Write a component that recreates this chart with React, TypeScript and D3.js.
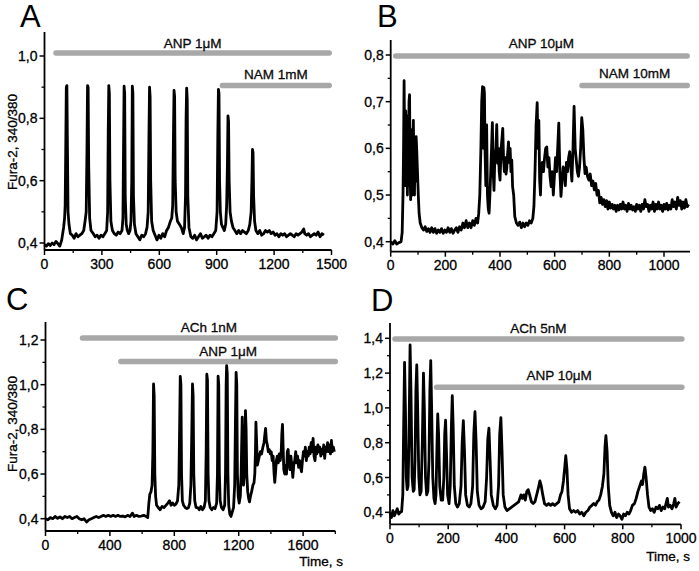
import React from "react";
import * as d3 from "d3";

// ---------- data ----------
const traceA: [number, number][] = [
  [0,0.395],[10,0.39],[20,0.398],[30,0.392],[40,0.40],[50,0.395],[60,0.405],[70,0.398],[80,0.39],[90,0.41],[95,0.43],[100,0.45],[105,0.48],[108,0.52],[111,0.7],[114,0.9],[117,0.905],[120,0.7],[123,0.5],[128,0.46],[135,0.43],[145,0.425],[155,0.415],[165,0.43],[175,0.42],[185,0.425],[195,0.43],[205,0.44],[212,0.47],[218,0.5],[222,0.7],[225,0.905],[228,0.9],[231,0.65],[236,0.48],[243,0.44],[255,0.43],[265,0.42],[275,0.425],[285,0.415],[295,0.425],[305,0.42],[315,0.43],[325,0.44],[330,0.5],[333,0.75],[336,0.905],[339,0.88],[342,0.6],[347,0.47],[355,0.44],[365,0.43],[375,0.425],[385,0.435],[395,0.43],[405,0.44],[410,0.48],[413,0.7],[416,0.903],[419,0.88],[422,0.55],[427,0.46],[433,0.44],[440,0.43],[447,0.44],[452,0.47],[456,0.6],[459,0.903],[462,0.88],[465,0.55],[470,0.46],[478,0.43],[488,0.42],[498,0.41],[508,0.425],[518,0.42],[528,0.43],[536,0.45],[542,0.5],[546,0.75],[549,0.9],[552,0.87],[555,0.6],[560,0.47],[568,0.44],[578,0.425],[588,0.41],[598,0.425],[608,0.415],[618,0.43],[628,0.42],[638,0.44],[648,0.45],[658,0.47],[665,0.48],[670,0.52],[674,0.75],[677,0.89],[680,0.87],[683,0.6],[688,0.5],[695,0.47],[705,0.46],[715,0.45],[725,0.43],[732,0.45],[737,0.55],[740,0.8],[743,0.897],[746,0.86],[749,0.55],[755,0.45],[765,0.42],[775,0.415],[785,0.425],[795,0.41],[805,0.42],[815,0.43],[825,0.415],[835,0.42],[845,0.425],[855,0.415],[865,0.425],[875,0.42],[885,0.43],[895,0.44],[902,0.5],[906,0.75],[909,0.893],[912,0.88],[915,0.6],[919,0.5],[925,0.46],[932,0.45],[940,0.44],[947,0.46],[952,0.52],[956,0.65],[959,0.808],[962,0.79],[965,0.6],[970,0.5],[977,0.47],[985,0.45],[995,0.44],[1005,0.43],[1015,0.44],[1025,0.43],[1035,0.44],[1045,0.435],[1055,0.43],[1065,0.44],[1073,0.46],[1080,0.5],[1084,0.6],[1087,0.70],[1090,0.69],[1093,0.55],[1098,0.47],[1105,0.44],[1115,0.43],[1125,0.44],[1135,0.425],[1145,0.43],[1155,0.44],[1165,0.435],[1175,0.44],[1185,0.43],[1195,0.435],[1205,0.425],[1215,0.43],[1225,0.42],[1235,0.43],[1245,0.425],[1255,0.43],[1265,0.42],[1275,0.425],[1285,0.43],[1295,0.425],[1305,0.42],[1315,0.43],[1325,0.425],[1335,0.43],[1345,0.435],[1355,0.445],[1360,0.43],[1370,0.425],[1380,0.43],[1390,0.42],[1400,0.425],[1410,0.43],[1420,0.425],[1430,0.435],[1440,0.42],[1450,0.43],[1460,0.425]
];

const traceB: [number, number][] = [
  [0,0.40],[8,0.395],[15,0.402],[22,0.395],[30,0.398],[38,0.40],[42,0.42],[45,0.5],[47,0.6],[49,0.745],[51,0.6],[53,0.52],[55,0.68],[57,0.55],[59,0.67],[61,0.5],[63,0.6],[65,0.52],[67,0.7],[69,0.715],[71,0.55],[73,0.49],[75,0.64],[77,0.52],[79,0.5],[81,0.6],[83,0.66],[85,0.55],[87,0.5],[89,0.62],[91,0.53],[93,0.625],[95,0.6],[98,0.55],[101,0.5],[104,0.46],[108,0.44],[114,0.43],[120,0.425],[126,0.432],[132,0.422],[138,0.428],[144,0.42],[150,0.43],[156,0.42],[162,0.428],[168,0.418],[174,0.425],[180,0.42],[186,0.428],[192,0.418],[198,0.425],[204,0.42],[210,0.43],[216,0.42],[222,0.428],[228,0.418],[234,0.425],[240,0.43],[246,0.42],[252,0.432],[258,0.425],[264,0.44],[270,0.43],[276,0.445],[282,0.43],[288,0.44],[294,0.43],[300,0.445],[306,0.435],[312,0.45],[318,0.44],[322,0.46],[326,0.5],[330,0.6],[333,0.7],[336,0.732],[339,0.6],[341,0.73],[343,0.718],[345,0.6],[348,0.52],[351,0.65],[354,0.5],[357,0.47],[360,0.461],[363,0.5],[366,0.55],[369,0.6],[372,0.655],[375,0.55],[378,0.51],[381,0.58],[385,0.6],[388,0.651],[391,0.568],[394,0.6],[397,0.55],[400,0.532],[404,0.6],[407,0.62],[410,0.643],[413,0.575],[416,0.55],[419,0.58],[422,0.545],[425,0.56],[428,0.59],[431,0.614],[434,0.57],[437,0.6],[440,0.55],[443,0.575],[446,0.518],[450,0.5],[454,0.454],[460,0.44],[466,0.435],[472,0.442],[478,0.43],[484,0.44],[490,0.432],[496,0.44],[502,0.435],[508,0.445],[514,0.44],[520,0.45],[524,0.475],[528,0.55],[532,0.65],[536,0.698],[539,0.6],[542,0.66],[545,0.532],[548,0.5],[551,0.56],[555,0.57],[559,0.55],[563,0.58],[567,0.6],[571,0.603],[575,0.56],[579,0.58],[583,0.54],[587,0.518],[591,0.55],[595,0.5],[599,0.54],[603,0.58],[607,0.55],[611,0.6],[615,0.654],[619,0.55],[623,0.497],[627,0.53],[631,0.56],[635,0.554],[639,0.52],[643,0.57],[647,0.55],[651,0.58],[655,0.593],[659,0.56],[663,0.53],[667,0.6],[671,0.69],[675,0.6],[679,0.575],[683,0.55],[687,0.54],[691,0.56],[695,0.6],[699,0.666],[703,0.64],[707,0.58],[711,0.546],[715,0.56],[720,0.54],[725,0.532],[730,0.545],[735,0.52],[740,0.53],[745,0.511],[750,0.525],[755,0.5],[760,0.51],[765,0.483],[770,0.495],[775,0.48],[780,0.49],[785,0.475],[790,0.488],[795,0.47],[800,0.485],[805,0.472],[810,0.48],[815,0.47],[820,0.478],[825,0.465],[830,0.478],[835,0.468],[840,0.48],[845,0.47],[850,0.485],[855,0.47],[860,0.478],[865,0.465],[870,0.482],[875,0.47],[880,0.478],[885,0.468],[890,0.475],[895,0.465],[900,0.48],[905,0.47],[910,0.478],[915,0.465],[920,0.48],[925,0.47],[930,0.49],[935,0.475],[940,0.48],[945,0.465],[950,0.478],[955,0.47],[960,0.485],[965,0.465],[970,0.48],[975,0.47],[980,0.485],[985,0.47],[990,0.478],[995,0.465],[1000,0.48],[1005,0.47],[1010,0.482],[1015,0.468],[1020,0.478],[1025,0.47],[1030,0.49],[1035,0.475],[1040,0.485],[1045,0.47],[1050,0.495],[1055,0.478],[1060,0.488],[1065,0.47],[1070,0.485],[1075,0.472],[1080,0.49],[1085,0.475],[1090,0.48]
];

const traceC: [number, number][] = [
  [0,0.40],[15,0.395],[30,0.405],[45,0.40],[60,0.41],[75,0.402],[90,0.408],[105,0.40],[120,0.41],[135,0.405],[150,0.41],[165,0.40],[180,0.405],[195,0.41],[210,0.40],[225,0.395],[240,0.40],[255,0.385],[270,0.395],[285,0.40],[300,0.405],[315,0.41],[330,0.405],[345,0.41],[360,0.415],[375,0.41],[390,0.415],[405,0.41],[420,0.415],[435,0.41],[450,0.415],[465,0.41],[480,0.412],[495,0.408],[510,0.415],[525,0.41],[540,0.425],[550,0.41],[565,0.415],[580,0.41],[595,0.412],[610,0.415],[625,0.41],[635,0.405],[642,0.47],[648,0.51],[655,0.52],[662,0.55],[667,0.7],[671,1.003],[675,0.95],[679,0.6],[684,0.5],[690,0.46],[700,0.45],[712,0.44],[724,0.455],[736,0.45],[748,0.46],[760,0.47],[770,0.48],[780,0.46],[790,0.47],[800,0.46],[810,0.465],[820,0.48],[828,0.55],[833,0.8],[837,1.037],[841,1.0],[845,0.6],[850,0.48],[858,0.46],[868,0.45],[878,0.445],[888,0.45],[896,0.47],[903,0.55],[909,0.8],[913,1.003],[917,0.95],[921,0.6],[927,0.48],[935,0.45],[945,0.45],[955,0.44],[965,0.455],[975,0.44],[985,0.45],[993,0.48],[998,0.7],[1002,1.047],[1006,1.02],[1010,0.6],[1015,0.48],[1023,0.45],[1033,0.44],[1043,0.45],[1053,0.445],[1063,0.47],[1068,0.6],[1072,1.038],[1076,1.0],[1080,0.6],[1085,0.48],[1093,0.45],[1103,0.44],[1113,0.46],[1118,0.6],[1122,1.0],[1125,1.085],[1129,1.05],[1133,0.6],[1138,0.46],[1145,0.42],[1152,0.41],[1160,0.43],[1168,0.45],[1175,0.55],[1180,0.85],[1184,1.055],[1188,1.0],[1192,0.6],[1197,0.5],[1203,0.47],[1210,0.5],[1215,0.6],[1219,0.75],[1222,0.855],[1226,0.7],[1230,0.55],[1235,0.6],[1239,0.75],[1242,0.884],[1246,0.8],[1250,0.6],[1256,0.52],[1262,0.49],[1267,0.475],[1273,0.5],[1280,0.52],[1288,0.55],[1295,0.56],[1300,0.6],[1304,0.7],[1307,0.832],[1311,0.75],[1316,0.64],[1322,0.66],[1328,0.68],[1335,0.7],[1342,0.69],[1350,0.72],[1357,0.74],[1363,0.78],[1367,0.804],[1372,0.75],[1378,0.73],[1384,0.7],[1390,0.71],[1396,0.69],[1402,0.7],[1408,0.66],[1414,0.68],[1420,0.6],[1424,0.563],[1428,0.6],[1434,0.66],[1440,0.68],[1446,0.65],[1452,0.69],[1458,0.66],[1464,0.7],[1468,0.78],[1472,0.822],[1476,0.72],[1480,0.62],[1486,0.6],[1492,0.64],[1497,0.6],[1502,0.7],[1507,0.71],[1512,0.65],[1518,0.62],[1524,0.68],[1530,0.64],[1536,0.585],[1542,0.64],[1548,0.66],[1554,0.7],[1560,0.65],[1566,0.68],[1572,0.63],[1578,0.66],[1584,0.63],[1590,0.61],[1596,0.66],[1602,0.7],[1608,0.68],[1614,0.72],[1620,0.66],[1626,0.70],[1632,0.68],[1638,0.72],[1644,0.69],[1650,0.74],[1656,0.7],[1662,0.76],[1668,0.68],[1674,0.66],[1680,0.72],[1686,0.69],[1692,0.73],[1698,0.7],[1704,0.72],[1710,0.68],[1716,0.71],[1722,0.69],[1728,0.73],[1734,0.67],[1740,0.72],[1746,0.7],[1752,0.74],[1758,0.7],[1764,0.73],[1770,0.69],[1776,0.75],[1782,0.7],[1788,0.72],[1794,0.7]
];

const traceD: [number, number][] = [
  [0,0.40],[5,0.37],[10,0.41],[15,0.38],[20,0.40],[25,0.42],[30,0.39],[35,0.40],[40,0.405],[44,0.5],[47,0.9],[50,1.262],[53,1.0],[56,0.6],[59,0.53],[62,0.55],[65,0.8],[69,1.362],[72,1.1],[76,0.6],[80,0.52],[83,0.53],[86,0.7],[89,1.1],[92,1.247],[95,1.0],[99,0.6],[103,0.5],[107,0.52],[111,0.8],[115,1.2],[118,1.0],[122,0.6],[126,0.5],[130,0.52],[134,0.7],[137,1.1],[140,1.272],[143,1.0],[147,0.6],[151,0.48],[155,0.45],[158,0.5],[161,0.75],[164,0.965],[167,0.85],[171,0.55],[176,0.47],[181,0.47],[185,0.6],[188,0.85],[191,0.93],[194,0.75],[198,0.5],[203,0.45],[207,0.55],[211,0.9],[214,1.07],[217,0.9],[221,0.55],[226,0.45],[232,0.43],[238,0.45],[244,0.55],[248,0.8],[252,0.927],[256,0.75],[260,0.5],[266,0.44],[272,0.43],[278,0.45],[284,0.55],[288,0.85],[292,0.978],[296,0.8],[300,0.52],[306,0.44],[313,0.42],[320,0.43],[327,0.46],[332,0.6],[336,0.82],[340,0.883],[344,0.7],[348,0.5],[355,0.44],[362,0.42],[368,0.44],[373,0.55],[377,0.85],[381,0.944],[385,0.75],[389,0.5],[395,0.43],[402,0.41],[410,0.42],[418,0.43],[426,0.44],[434,0.45],[442,0.46],[450,0.5],[455,0.48],[460,0.5],[465,0.47],[470,0.52],[475,0.53],[480,0.5],[486,0.46],[492,0.45],[498,0.46],[504,0.5],[510,0.54],[515,0.58],[520,0.55],[525,0.5],[531,0.45],[538,0.44],[545,0.45],[552,0.44],[559,0.45],[566,0.44],[573,0.45],[580,0.46],[586,0.5],[591,0.52],[596,0.58],[600,0.65],[604,0.725],[608,0.65],[612,0.5],[617,0.42],[624,0.4],[631,0.41],[638,0.4],[645,0.41],[652,0.39],[659,0.40],[666,0.38],[673,0.40],[680,0.41],[687,0.43],[694,0.44],[700,0.45],[706,0.44],[712,0.46],[718,0.47],[724,0.5],[730,0.55],[735,0.62],[739,0.78],[742,0.84],[746,0.75],[750,0.55],[755,0.44],[761,0.4],[767,0.38],[773,0.40],[779,0.37],[785,0.39],[791,0.38],[797,0.36],[803,0.39],[809,0.38],[815,0.40],[821,0.39],[827,0.41],[833,0.44],[840,0.45],[846,0.48],[852,0.52],[858,0.55],[864,0.58],[868,0.56],[872,0.62],[876,0.66],[880,0.6],[885,0.5],[890,0.43],[896,0.41],[902,0.42],[908,0.40],[914,0.43],[920,0.42],[926,0.44],[932,0.41],[938,0.43],[944,0.42],[950,0.46],[953,0.48],[957,0.43],[963,0.44],[969,0.42],[975,0.45],[979,0.48],[983,0.43],[989,0.45],[995,0.46]
];

// tick values
const xTicksA = [0, 300, 600, 900, 1200, 1500];
const xTicksB = [0, 200, 400, 600, 800, 1000];
const xTicksC = [0, 400, 800, 1200, 1600];
const xTicksD = [0, 200, 400, 600, 800, 1000];
const yTicksA = [0.4, 0.6, 0.8, 1.0];
const yTicksB = [0.4, 0.5, 0.6, 0.7, 0.8];
const yTicksC = [0.4, 0.6, 0.8, 1.0, 1.2];
const yTicksD = [0.4, 0.6, 0.8, 1.0, 1.2, 1.4];

// treatment bars: [label, start, end]
const barsA: [string, number, number][] = [["ANP 1\u03bcM", 60, 1488], ["NAM 1mM", 930, 1488]];
const barsB: [string, number, number][] = [["ANP 10\u03bcM", 18, 1085], ["NAM 10mM", 700, 1085]];
const barsC: [string, number, number][] = [["ACh 1nM", 230, 1800], ["ANP 1\u03bcM", 468, 1800]];
const barsD: [string, number, number][] = [["ACh 5nM", 17, 1003], ["ANP 10\u03bcM", 160, 1003]];

const FONT = "'Liberation Sans', Arial, Helvetica, sans-serif";
const fmt = (v: number) => d3.format(".1f")(v).replace(".", ",");
const TXT = { stroke: "#000", strokeWidth: 0.3 };

type PanelProps = {
  letter: string;
  letterPos: [number, number];
  trace: [number, number][];
  xDom: [number, number]; xRange: [number, number]; xEnd: number;
  yDom: [number, number]; yRange: [number, number];
  axisY: number; axisTop: number;
  xTicks: number[]; xMinorStep: number; xMinorMax: number;
  yTicks: number[]; yMinorStep: number;
  bars: [string, number, number][];
  barY: number[]; textY: number[];
  yLabel?: [number, number];
  timeLabel?: [number, number];
};

function Panel(p: PanelProps) {
  const x = d3.scaleLinear().domain(p.xDom).range(p.xRange);
  const y = d3.scaleLinear().domain(p.yDom).range(p.yRange);
  const x0 = x(0);
  const line = d3.line<[number, number]>().x(d => x(d[0])).y(d => y(d[1]));
  const xMinor: number[] = [];
  for (let i = 1; i * p.xMinorStep <= p.xMinorMax + 1e-6; i++) {
    const v = i * p.xMinorStep;
    if (!p.xTicks.some(t => Math.abs(t - v) < 1e-6)) xMinor.push(v);
  }
  const yMinor: number[] = [];
  for (let i = 0; i < p.yTicks.length - 1; i++) yMinor.push(p.yTicks[i] + p.yMinorStep);
  const topVal = y.invert(p.axisTop);
  if (p.yTicks[p.yTicks.length - 1] + p.yMinorStep < topVal) yMinor.push(p.yTicks[p.yTicks.length - 1] + p.yMinorStep);
  return (
    <g fontFamily={FONT}>
      <text x={p.letterPos[0]} y={p.letterPos[1]} fontSize={31} fill="#000">{p.letter}</text>
      {p.bars.map((b, i) => (
        <g key={i}>
          <line x1={x(b[1])} x2={x(b[2])} y1={p.barY[i]} y2={p.barY[i]} stroke="#a8a8a8" strokeWidth={5.5} strokeLinecap="round" />
          <text x={(x(b[1]) + x(b[2])) / 2} y={p.textY[i]} fontSize={13.5} textAnchor="middle" fill="#111" {...TXT}>{b[0]}</text>
        </g>
      ))}
      <path d={line(p.trace) || ""} fill="none" stroke="#000" strokeWidth={2.8} strokeLinejoin="round" />
      {/* axes */}
      <line x1={x0} x2={x0} y1={p.axisY} y2={p.axisTop} stroke="#000" strokeWidth={1.8} />
      <line x1={x0} x2={p.xEnd} y1={p.axisY} y2={p.axisY} stroke="#000" strokeWidth={1.8} />
      {p.xTicks.map(t => (
        <g key={"xt" + t}>
          <line x1={x(t)} x2={x(t)} y1={p.axisY} y2={p.axisY + 5} stroke="#000" strokeWidth={1.5} />
          <text x={x(t)} y={p.axisY + 18.5} fontSize={14} textAnchor="middle" fill="#000" {...TXT}>{t}</text>
        </g>
      ))}
      {xMinor.map(t => (
        <line key={"xm" + t} x1={x(t)} x2={x(t)} y1={p.axisY} y2={p.axisY + 3} stroke="#000" strokeWidth={1.3} />
      ))}
      {p.yTicks.map(t => (
        <g key={"yt" + t}>
          <line x1={x0 - 5} x2={x0} y1={y(t)} y2={y(t)} stroke="#000" strokeWidth={1.5} />
          <text x={x0 - 7} y={y(t)} dy="0.36em" fontSize={14} textAnchor="end" fill="#000" {...TXT}>{fmt(t)}</text>
        </g>
      ))}
      {yMinor.map(t => (
        <line key={"ym" + t} x1={x0 - 3} x2={x0} y1={y(t)} y2={y(t)} stroke="#000" strokeWidth={1.3} />
      ))}
      {p.yLabel && (
        <text transform={`translate(${p.yLabel[0]},${p.yLabel[1]}) rotate(-90)`} fontSize={13.5} textAnchor="middle" fill="#000" {...TXT}>Fura-2, 340/380</text>
      )}
      {p.timeLabel && (
        <text x={p.timeLabel[0]} y={p.timeLabel[1]} fontSize={13.5} textAnchor="end" fill="#000" {...TXT}>Time, s</text>
      )}
    </g>
  );
}

export default function App() {
  return (
    <svg width={699} height={571} viewBox="0 0 699 571" style={{ position: "absolute", left: 0, top: 0, background: "#fff" }}>
      <rect width={699} height={571} fill="#fff" />
      <Panel letter="A" letterPos={[20, 27]} trace={traceA}
        xDom={[0, 1500]} xRange={[44.5, 331.5]} xEnd={331.5}
        yDom={[0.4, 1.0]} yRange={[243, 56]} axisY={250} axisTop={32}
        xTicks={xTicksA} xMinorStep={150} xMinorMax={1500}
        yTicks={yTicksA} yMinorStep={0.1}
        bars={barsA} barY={[53, 85.5]} textY={[48, 79]}
        yLabel={[17, 142]} />
      <Panel letter="B" letterPos={[377, 27]} trace={traceB}
        xDom={[0, 1000]} xRange={[390.7, 664]} xEnd={690}
        yDom={[0.4, 0.8]} yRange={[241.7, 55]} axisY={251.7} axisTop={40}
        xTicks={xTicksB} xMinorStep={100} xMinorMax={1000}
        yTicks={yTicksB} yMinorStep={0.05}
        bars={barsB} barY={[56, 85.5]} textY={[48, 78]} />
      <Panel letter="C" letterPos={[6, 310]} trace={traceC}
        xDom={[0, 1600]} xRange={[45.5, 303.1]} xEnd={335.3}
        yDom={[0.4, 1.2]} yRange={[518.7, 340]} axisY={531} axisTop={322}
        xTicks={xTicksC} xMinorStep={200} xMinorMax={1800}
        yTicks={yTicksC} yMinorStep={0.1}
        bars={barsC} barY={[338, 361.5]} textY={[332, 356]}
        yLabel={[17, 424]} timeLabel={[343, 566]} />
      <Panel letter="D" letterPos={[371, 311]} trace={traceD}
        xDom={[0, 1000]} xRange={[390, 681]} xEnd={681}
        yDom={[0.4, 1.4]} yRange={[512.3, 338.3]} axisY={524.3} axisTop={323}
        xTicks={xTicksD} xMinorStep={100} xMinorMax={1000}
        yTicks={yTicksD} yMinorStep={0.1}
        bars={barsD} barY={[339, 387.3]} textY={[333, 380]}
        timeLabel={[690, 561]} />
    </svg>
  );
}
